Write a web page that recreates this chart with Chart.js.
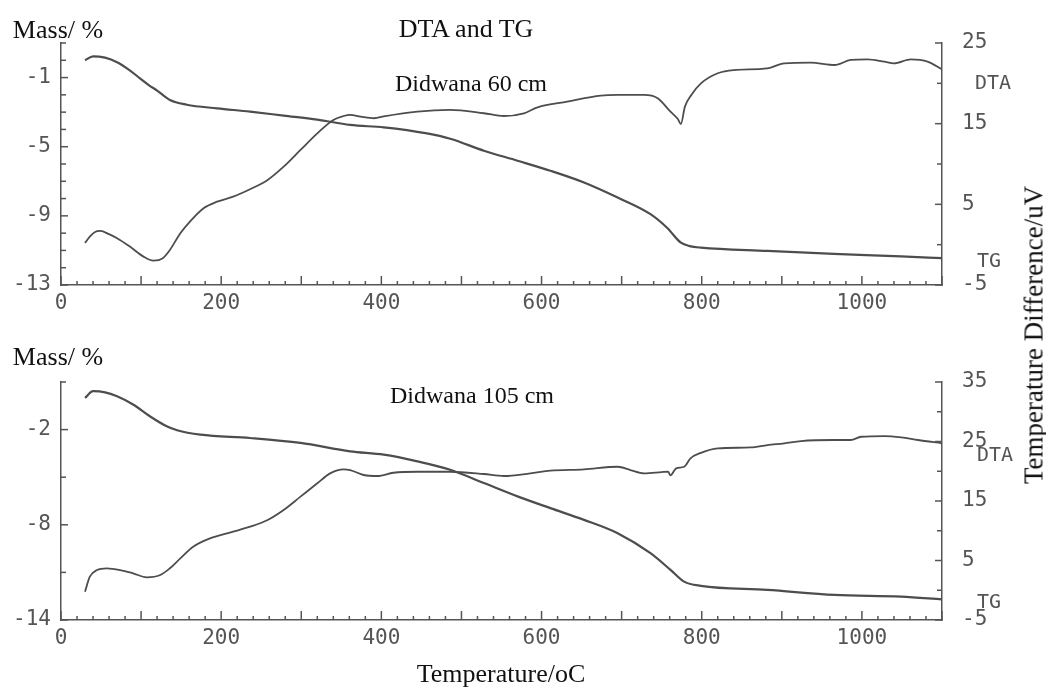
<!DOCTYPE html>
<html>
<head>
<meta charset="utf-8">
<script src="https://cdn.jsdelivr.net/npm/chart.js@4.4.1/dist/chart.umd.min.js"></script>
<style>
  body { margin: 0; background: #fff; }
  #wrap { position: relative; width: 1046px; height: 690px; overflow: hidden; }
  canvas { position: absolute; left: 0; }
  .t { position: absolute; font-family: "Liberation Serif", serif; color: #111; white-space: nowrap; transform: translate(-50%, -50%); }
  .p { position: absolute; font-family: "DejaVu Sans Mono", monospace; font-size: 20px; color: #555; white-space: nowrap; transform: translate(0, -50%); }
</style>
</head>
<body>
<div id="wrap">
  <canvas id="topChart" width="1046" height="330" style="top:0"></canvas>
  <canvas id="bottomChart" width="1046" height="360" style="top:330px"></canvas>

  <div class="t" style="left:58px;top:30px;font-size:26px">Mass/ %</div>
  <div class="t" style="left:466px;top:29px;font-size:26px">DTA and TG</div>
  <div class="t" style="left:471px;top:83px;font-size:24px">Didwana 60 cm</div>
  <div class="t" style="left:58px;top:357px;font-size:26px">Mass/ %</div>
  <div class="t" style="left:472px;top:395px;font-size:24px">Didwana 105 cm</div>
  <div class="t" style="left:501px;top:674px;font-size:26px">Temperature/oC</div>
  <div class="t" style="left:1034px;top:335px;font-size:27px;transform:translate(-50%,-50%) rotate(-90deg)">Temperature Difference/uV</div>

  <div class="p" style="left:975px;top:82px">DTA</div>
  <div class="p" style="left:977px;top:260px">TG</div>
  <div class="p" style="left:977px;top:454px">DTA</div>
  <div class="p" style="left:977px;top:601px">TG</div>
</div>
<script>
// Didwana 60 cm
const tgTopTemp = [30,40,55,70,85,99,110,120,136,157,195,236,278,320,361,403,457,486,528,570,611,653,695,736,757,774,785,799,882,965,1049,1100];
const tgTopMass = [0,0.23,0.15,-0.11,-0.55,-1.06,-1.45,-1.75,-2.3,-2.57,-2.78,-2.97,-3.2,-3.43,-3.74,-3.88,-4.23,-4.54,-5.23,-5.81,-6.39,-7.07,-7.94,-8.9,-9.7,-10.55,-10.75,-10.84,-11.03,-11.2,-11.34,-11.45];
const dtaTopTemp = [30,36,42,49,60,70,86,103,115,127,136,149,161,178,195,215,236,258,278,299,320,340,353,361,374,391,403,445,486,528,553,578,595,632,674,695,728,745,761,770,774,779,787,799,820,840,882,903,936,966,986,1007,1028,1040,1061,1082,1100];
const dtaTopDiff = [0.2,1.0,1.55,1.7,1.3,0.8,-0.24,-1.48,-1.97,-1.68,-0.65,1.42,2.86,4.52,5.33,5.95,6.87,8.02,9.67,11.74,13.8,15.46,15.95,16.08,15.87,15.67,15.9,16.49,16.7,16.29,15.95,16.29,17.03,17.73,18.47,18.56,18.56,18.15,16.49,15.6,14.96,17.11,18.56,20.0,21.25,21.65,21.86,22.48,22.56,22.27,22.9,22.98,22.68,22.48,22.98,22.7,21.74];

// Didwana 105 cm
const tgBotTemp = [30,40,55,70,90,111,132,145,174,236,299,361,403,445,486,528,570,611,653,695,736,761,778,799,882,966,1049,1100];
const tgBotMass = [0,0.42,0.35,0.1,-0.42,-1.16,-1.79,-2.04,-2.32,-2.53,-2.84,-3.37,-3.58,-4.0,-4.53,-5.37,-6.21,-6.95,-7.69,-8.53,-9.79,-10.84,-11.58,-11.85,-12.1,-12.42,-12.53,-12.7];
const dtaBotTemp = [30,36,45,57,74,90,107,124,136,149,165,186,215,236,258,278,299,320,336,353,361,378,395,415,445,486,528,553,586,611,653,695,711,728,750,758,761,768,778,786,799,820,861,882,903,924,965,986,999,1028,1049,1070,1100];
const dtaBotDiff = [-0.24,2.28,3.4,3.69,3.4,2.85,2.17,2.56,3.69,5.37,7.32,8.72,9.84,10.68,11.81,13.49,15.73,17.97,19.65,20.32,20.2,19.37,19.2,19.75,19.92,19.92,19.54,19.2,19.65,20.09,20.32,20.76,20.2,19.65,19.85,19.92,19.32,20.49,20.76,22.17,23.1,23.85,24.0,24.4,24.7,25.08,25.25,25.25,25.8,25.92,25.7,25.25,24.7];

// axis settings
const tempMin = 0, tempMax = 1100, tempStep = 20, tempLabelEvery = 200;
const massTop = { min: -13, max: 1, step: 1, labelEvery: 4 };
const massBot = { min: -14, max: 1, step: 3, labelEvery: 6 };
const diffTop = { min: -5, max: 25, step: 5, labelEvery: 10 };
const diffBot = { min: -5, max: 35, step: 5, labelEvery: 10 };

const ink = '#555';
const lineInk = '#4d4d4d';
const tickFont = { family: 'DejaVu Sans Mono', size: 21 };

function pts(xs, ys) {
  return xs.map((x, i) => ({ x: x, y: ys[i] }));
}

// small tick marks pointing into the plot, like the plotter output
const inwardTicks = {
  id: 'inwardTicks',
  afterDraw(chart) {
    const ctx = chart.ctx, a = chart.chartArea;
    ctx.save();
    ctx.strokeStyle = ink;
    ctx.lineWidth = 1.5;
    const seg = (x1, y1, x2, y2) => { ctx.beginPath(); ctx.moveTo(x1, y1); ctx.lineTo(x2, y2); ctx.stroke(); };
    const x = chart.scales.x;
    x.ticks.forEach(t => {
      const px = x.getPixelForValue(t.value);
      seg(px, a.bottom, px, a.bottom - (t.value % 100 === 0 ? 9 : 4));
    });
    const m = chart.scales.mass;
    m.ticks.forEach(t => {
      const py = m.getPixelForValue(t.value);
      seg(a.left, py, a.left + (t.label ? 7 : 5), py);
    });
    const d = chart.scales.diff;
    d.ticks.forEach(t => {
      const py = d.getPixelForValue(t.value);
      seg(a.right, py, a.right - (t.label ? 7 : 5), py);
    });
    ctx.restore();
  }
};

function makeChart(id, padTop, xHeight, tg, dta, massAx, diffAx) {
  const every = (ax) => (v) => ((v - ax.min) % ax.labelEvery === 0 ? String(v) : '');
  return new Chart(document.getElementById(id), {
    type: 'line',
    data: {
      datasets: [
        { label: 'TG', data: tg, yAxisID: 'mass', borderColor: lineInk, borderWidth: 2.2, pointRadius: 0, cubicInterpolationMode: 'monotone' },
        { label: 'DTA', data: dta, yAxisID: 'diff', borderColor: lineInk, borderWidth: 1.8, pointRadius: 0, cubicInterpolationMode: 'monotone' }
      ]
    },
    options: {
      responsive: false,
      animation: false,
      layout: { padding: { top: padTop, left: 0, right: 0, bottom: 0 } },
      plugins: { legend: { display: false }, tooltip: { enabled: false } },
      scales: {
        x: {
          type: 'linear', min: tempMin, max: tempMax,
          grid: { display: false, drawTicks: false },
          border: { display: true, color: ink, width: 1.5 },
          ticks: { stepSize: tempStep, autoSkip: false, maxRotation: 0, padding: 6, color: ink, font: tickFont,
            callback: (v) => (v % tempLabelEvery === 0 ? String(v) : '') },
          afterFit: (s) => { s.height = xHeight; }
        },
        mass: {
          position: 'left', min: massAx.min, max: massAx.max,
          grid: { display: false, drawTicks: false },
          border: { display: true, color: ink, width: 1.5 },
          ticks: { stepSize: massAx.step, autoSkip: false, padding: 10, color: ink, font: tickFont, callback: every(massAx) },
          afterFit: (s) => { s.width = 61; }
        },
        diff: {
          position: 'right', min: diffAx.min, max: diffAx.max,
          grid: { display: false, drawTicks: false },
          border: { display: true, color: ink, width: 1.5 },
          ticks: { stepSize: diffAx.step, autoSkip: false, padding: 20, color: ink, font: tickFont, callback: every(diffAx) },
          afterFit: (s) => { s.width = 104; }
        }
      }
    },
    plugins: [inwardTicks]
  });
}

makeChart('topChart', 43, 45, pts(tgTopTemp, tgTopMass), pts(dtaTopTemp, dtaTopDiff), massTop, diffTop);
makeChart('bottomChart', 52, 70, pts(tgBotTemp, tgBotMass), pts(dtaBotTemp, dtaBotDiff), massBot, diffBot);
</script>
</body>
</html>
